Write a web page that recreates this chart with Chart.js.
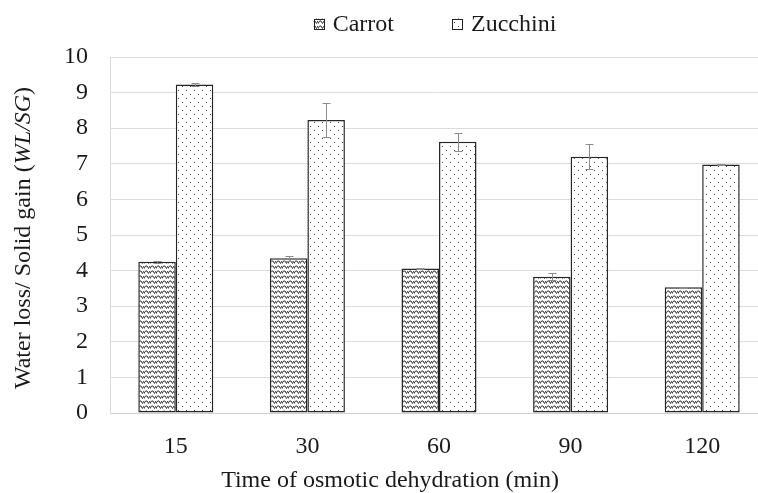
<!DOCTYPE html>
<html>
<head>
<meta charset="utf-8">
<script src="https://cdn.jsdelivr.net/npm/chart.js@4.4.1/dist/chart.umd.min.js"></script>
<style>
  html, body { margin: 0; padding: 0; overflow: hidden; background: #fff; }
</style>
</head>
<body>
<canvas id="chart"></canvas>
<script>
var times = ['15', '30', '60', '90', '120'];
var carrot = [4.25, 4.35, 4.06, 3.83, 3.53];
var carrotErr = [0.03, 0.07, 0.02, 0.09, 0.02];
var zucchini = [9.23, 8.23, 7.62, 7.20, 6.98];
var zucchiniErr = [0.04, 0.48, 0.25, 0.35, 0.02];

var FONT = 'Liberation Serif';
var TEXT = '#1a1a1a';

// fill patterns: wavy lines for carrot, dots for zucchini
function wavePattern() {
    var c = document.createElement('canvas');
    c.width = 6; c.height = 5;
    var g = c.getContext('2d');
    g.fillStyle = '#fff';
    g.fillRect(0, 0, 6, 5);
    g.strokeStyle = '#333';
    g.lineWidth = 1;
    g.beginPath();
    g.moveTo(-1.5, 1);
    g.lineTo(0, 3.5);
    g.lineTo(1.5, 1);
    g.lineTo(3, 1);
    g.lineTo(4.5, 3.5);
    g.lineTo(6, 1);
    g.lineTo(7.5, 1);
    g.stroke();
    return g.createPattern(c, 'repeat');
}

function dotPattern() {
    var c = document.createElement('canvas');
    c.width = 8; c.height = 8;
    var g = c.getContext('2d');
    g.fillStyle = '#fff';
    g.fillRect(0, 0, 8, 8);
    g.fillStyle = '#444';
    g.fillRect(2, 2, 1, 1);
    g.fillRect(6, 6, 1, 1);
    return g.createPattern(c, 'repeat');
}

var errorBars = {
    id: 'errorBars',
    afterDatasetsDraw: function(chart) {
        var ctx = chart.ctx;
        var y = chart.scales.y;
        ctx.save();
        ctx.strokeStyle = '#8c8c8c';
        ctx.lineWidth = 1;
        chart.data.datasets.forEach(function(ds, i) {
            chart.getDatasetMeta(i).data.forEach(function(bar, j) {
                var v = ds.data[j], e = ds.errors[j];
                var x = Math.round(bar.x) + 0.5;
                var top = Math.round(y.getPixelForValue(v + e)) + 0.5;
                var bot = Math.round(y.getPixelForValue(v - e)) + 0.5;
                ctx.beginPath();
                ctx.moveTo(x, top); ctx.lineTo(x, bot);
                ctx.moveTo(x - 4, top); ctx.lineTo(x + 4, top);
                ctx.moveTo(x - 4, bot); ctx.lineTo(x + 4, bot);
                ctx.stroke();
            });
        });
        ctx.restore();
    }
};

// legend and axis titles (y title has an italic part)
var labelsPlugin = {
    id: 'labelsPlugin',
    afterDraw: function(chart) {
        var ctx = chart.ctx;
        ctx.save();
        ctx.fillStyle = TEXT;
        ctx.textBaseline = 'middle';

        // legend
        ctx.font = '24px "' + FONT + '"';
        var box = 11, gapText = 8, gapItem = 58;
        var items = chart.data.datasets.map(function(ds) {
            return { ds: ds, w: box + gapText + ctx.measureText(ds.label).width };
        });
        var total = items.reduce(function(s, it) { return s + it.w; }, 0) + gapItem * (items.length - 1);
        var x = 435 - total / 2, ly = 24;
        items.forEach(function(it) {
            ctx.fillStyle = it.ds.backgroundColor;
            ctx.fillRect(x, ly - box / 2, box, box);
            ctx.strokeStyle = '#222';
            ctx.lineWidth = 1;
            ctx.strokeRect(Math.round(x) + 0.5, Math.round(ly - box / 2) + 0.5, box - 1, box - 1);
            ctx.fillStyle = TEXT;
            ctx.textAlign = 'left';
            ctx.fillText(it.ds.label, x + box + gapText, ly + 1);
            x += it.w + gapItem;
        });

        // x title
        ctx.textAlign = 'center';
        ctx.fillText('Time of osmotic dehydration (min)', 390, 481);

        // y title
        var parts = [['Water loss/ Solid gain (', ''], ['WL/SG', 'italic '], [')', '']];
        var w = 0;
        parts.forEach(function(p) {
            ctx.font = p[1] + '24px "' + FONT + '"';
            p.push(ctx.measureText(p[0]).width);
            w += p[2];
        });
        ctx.translate(24, 238);
        ctx.rotate(-Math.PI / 2);
        ctx.textAlign = 'left';
        var px = -w / 2;
        parts.forEach(function(p) {
            ctx.font = p[1] + '24px "' + FONT + '"';
            ctx.fillText(p[0], px, 0);
            px += p[2];
        });
        ctx.restore();
    }
};

var ctx = document.getElementById('chart').getContext('2d');
ctx.canvas.width = 770;
ctx.canvas.height = 493;
Chart.defaults.font.family = FONT;
Chart.defaults.font.size = 24;
Chart.defaults.color = TEXT;

var chart = new Chart(ctx, {
    type: 'bar',
    data: {
        labels: times,
        datasets: [{
            label: 'Carrot',
            data: carrot,
            errors: carrotErr,
            backgroundColor: wavePattern(),
            borderColor: '#262626',
            borderWidth: 1.5,
            borderSkipped: false
        }, {
            label: 'Zucchini',
            data: zucchini,
            errors: zucchiniErr,
            backgroundColor: dotPattern(),
            borderColor: '#262626',
            borderWidth: 1.5,
            borderSkipped: false
        }]
    },
    options: {
        responsive: false,
        animation: false,
        layout: { padding: { top: 57, left: 0, right: 2, bottom: 0 } },
        datasets: {
            bar: { categoryPercentage: 0.57, barPercentage: 1 }
        },
        plugins: {
            legend: { display: false },
            tooltip: { enabled: false }
        },
        scales: {
            x: {
                grid: { display: false },
                border: { display: true, color: '#d0d0d0', width: 1 },
                ticks: { padding: 11 },
                afterFit: function(s) { s.height = 80; }
            },
            y: {
                min: 0,
                max: 10,
                ticks: { stepSize: 1, padding: 22 },
                grid: { color: '#dcdcdc', drawTicks: false },
                border: { display: true, color: '#dcdcdc' },
                afterFit: function(s) { s.width = 110; }
            }
        }
    },
    plugins: [errorBars, labelsPlugin]
});
</script>
</body>
</html>
